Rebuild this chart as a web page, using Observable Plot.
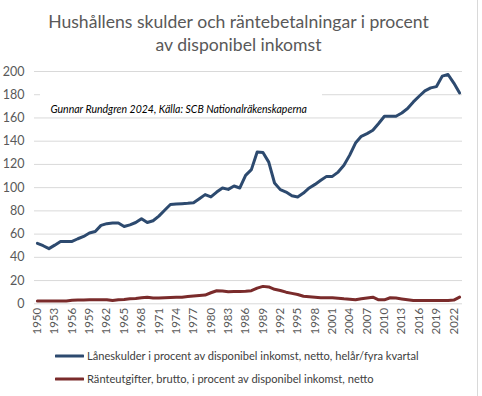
<!DOCTYPE html>
<html><head><meta charset="utf-8">
<script src="https://cdn.jsdelivr.net/npm/d3@7"></script>
<script src="https://cdn.jsdelivr.net/npm/@observablehq/plot@0.6"></script>
<style>
body{margin:0;background:#fff;}
#wrap{position:relative;width:477px;height:396px;border-right:1px solid #d9d9d9;font-family:Lato,"Open Sans",sans-serif;overflow:hidden;background:#fff;}
#title{position:absolute;top:10px;left:0;width:477px;text-align:center;font-size:17.6px;line-height:23px;color:#595959;}
#chart{position:absolute;top:62px;left:0;}
#legend{position:absolute;top:344px;left:55px;font-size:11.1px;color:#404040;}
.row{display:flex;align-items:center;height:23px;white-space:nowrap;}
.row svg{margin-right:3px;}
</style></head><body>
<div id="wrap">
  <div id="title">Hushållens skulder och räntebetalningar i procent<br>av disponibel inkomst</div>
  <div id="chart"></div>
  <div id="legend"></div>
</div>
<script>
const years = [1950,1951,1952,1953,1954,1955,1956,1957,1958,1959,
  1960,1961,1962,1963,1964,1965,1966,1967,1968,1969,
  1970,1971,1972,1973,1974,1975,1976,1977,1978,1979,
  1980,1981,1982,1983,1984,1985,1986,1987,1988,1989,
  1990,1991,1992,1993,1994,1995,1996,1997,1998,1999,
  2000,2001,2002,2003,2004,2005,2006,2007,2008,2009,
  2010,2011,2012,2013,2014,2015,2016,2017,2018,2019,
  2020,2021,2022,2023];
const laneskulder = [52,50,47.5,50.5,53.7,53.7,53.7,56,58,61,
  62.3,67.5,69,69.5,69.5,66.5,68,70,73.3,70,
  71.5,75.5,80.5,85.5,86,86.2,86.5,87,90.5,94,
  92,96.2,99.7,98.5,101.4,99.7,110.6,115.5,130.7,130.2,
  122,104,98.3,96.2,93,92,95.3,99.7,102.8,106.3,
  109.7,109.7,113.4,119.2,128,138.4,144.2,146.5,149.4,155.2,
  161.5,161.5,161.5,164.3,168.1,173.8,178.7,183.3,185.9,187,
  196,197.4,190,181.5];
const rantor = [2.5,2.5,2.5,2.5,2.5,2.5,3,3.2,3.3,3.4,
  3.5,3.5,3.5,2.8,3.5,3.8,4.3,4.6,5.2,5.7,
  5,5,5.3,5.4,5.6,5.7,6.3,6.8,7.2,7.5,
  9.5,11.2,11,10.3,10.5,10.6,10.8,11.3,13.5,15,
  14.5,12.5,11.5,10,9,8,6.5,6,5.6,5.2,
  5.2,5.2,4.8,4.3,4,3.4,4.3,5,5.7,3.4,
  3.4,5.2,4.9,4.2,3.5,2.8,2.8,2.8,2.8,2.8,
  2.8,2.8,3.2,5.7];
const xTickYears = [1950,1953,1956,1959,1962,1965,1968,1971,1974,1977,1980,1983,1986,1989,1992,1995,1998,2001,2004,2007,2010,2013,2016,2019,2022];
const yTicks = [0,20,40,60,80,100,120,140,160,180,200];
const seriesNames = ["Låneskulder i procent av disponibel inkomst, netto, helår/fyra kvartal",
  "Ränteutgifter, brutto, i procent av disponibel inkomst, netto"];
const seriesColors = ["#2d4a6f", "#7a2b2b"];
const noteText = ["Gunnar Rundgren 2024, Källa: SCB Nationalräkenskaperna"];

const blue = years.map((y, i) => ({year: y, value: laneskulder[i]}));
const red = years.map((y, i) => ({year: y, value: rantor[i]}));

const chart = Plot.plot({
  width: 477,
  height: 278,
  marginLeft: 34,
  marginRight: 15,
  marginTop: 9,
  marginBottom: 36.7,
  style: {fontFamily: "Lato, 'Open Sans', sans-serif", color: "#595959", background: "transparent"},
  x: {type: "linear", domain: [1949.5, 2023.5]},
  y: {domain: [0, 200]},
  marks: [
    Plot.gridY(yTicks, {stroke: "#d9d9d9", strokeOpacity: 1, strokeWidth: 1}),
    // white text-box background of the annotation (covers part of the grid)
    Plot.rect([null], {fill: "white", insetLeft: 6, insetRight: 140, insetTop: 17, insetBottom: 191}),
    Plot.text(noteText, {frameAnchor: "top-left", dx: 16, dy: 34, textAnchor: "start", fontSize: 10.5, fontStyle: "italic", fill: "#000"}),
    Plot.axisY(yTicks, {tickSize: 0, tickPadding: 10, fontSize: 12.5, fill: "#595959", label: null}),
    Plot.axisX(xTickYears, {tickSize: 0, tickPadding: 4, tickRotate: -90, fontSize: 11.5, fill: "#595959", label: null, tickFormat: d => String(d)}),
    Plot.line(red, {x: "year", y: "value", stroke: seriesColors[1], strokeWidth: 3, strokeLinejoin: "round", strokeLinecap: "round"}),
    Plot.line(blue, {x: "year", y: "value", stroke: seriesColors[0], strokeWidth: 3, strokeLinejoin: "round", strokeLinecap: "round"})
  ]
});
document.getElementById("chart").appendChild(chart);

const legend = document.getElementById("legend");
seriesNames.forEach((name, i) => {
  const row = document.createElement("div");
  row.className = "row";
  row.innerHTML = `<svg width="29" height="6"><line x1="1" x2="28" y1="3" y2="3" stroke="${seriesColors[i]}" stroke-width="3" stroke-linecap="round"/></svg><span>${name}</span>`;
  legend.appendChild(row);
});
</script>
</body></html>
